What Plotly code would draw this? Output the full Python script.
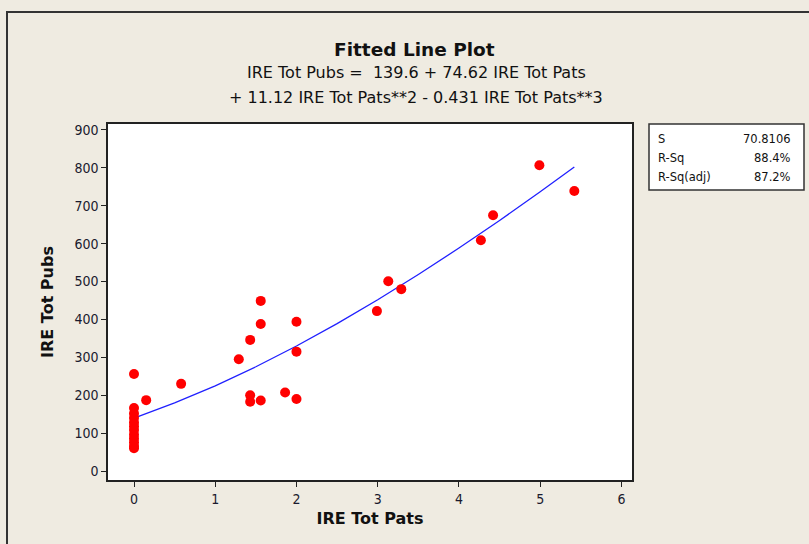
import plotly.graph_objects as go

# Data
pats = [0, 0, 0, 0, 0, 0, 0, 0, 0, 0, 0, 0,
        0.15, 0.58, 1.29, 1.43, 1.43, 1.43, 1.56, 1.56, 1.56, 1.86,
        2.0, 2.0, 2.0, 2.99, 3.13, 3.29, 4.27, 4.42, 4.99, 5.42]
pubs = [256, 166, 152, 140, 128, 118, 108, 96, 86, 76, 66, 60,
        187, 230, 295, 346, 200, 183, 449, 388, 186, 207,
        394, 315, 190, 422, 501, 480, 609, 675, 807, 739]

# Fitted line (IRE Tot Pubs = 139.6 + 74.62x + 11.12x^2 - 0.431x^3)
fit_x = [0, 0.5, 1.0, 1.5, 2.0, 2.5, 3.0, 3.5, 4.0, 4.5, 5.0, 5.42]
fit_y = [139.6, 179.6, 224.9, 275.1, 329.9, 388.9, 451.9, 518.5, 588.4, 661.3, 736.8, 802.1]

x_ticks = [0, 1, 2, 3, 4, 5, 6]
y_ticks = [0, 100, 200, 300, 400, 500, 600, 700, 800, 900]

stat_names = ["S", "R-Sq", "R-Sq(adj)"]
stat_values = ["70.8106", "88.4%", "87.2%"]

W, H = 809, 544
L, R, T, B = 108, 632, 124, 480
pw, ph = R - L, B - T

def px(x):
    return (x - L) / pw

def py(y):
    return (B - y) / ph

FONT = "DejaVu Sans, sans-serif"
TFONT = "DejaVu Sans Condensed, DejaVu Sans, sans-serif"
TXT = "#1a1a2e"

fig = go.Figure()
fig.add_trace(go.Scatter(x=fit_x, y=fit_y, mode="lines",
                         line=dict(color="#2020ff", width=1.3), showlegend=False,
                         hoverinfo="skip"))
fig.add_trace(go.Scatter(x=pats, y=pubs, mode="markers",
                         marker=dict(color="#ff0000", size=10, line=dict(width=0)),
                         showlegend=False))

fig.update_layout(
    width=W, height=H,
    margin=dict(l=L, r=W - R, t=T, b=H - B),
    paper_bgcolor="#efebe1", plot_bgcolor="white",
    font=dict(family=FONT, color=TXT, size=13),
    xaxis=dict(range=[-0.32, 6.13], tickvals=x_ticks, ticks="outside", ticklen=5,
               tickcolor="#222", showgrid=False, zeroline=False, showline=True,
               linecolor="#222", linewidth=1.5, mirror=True,
               tickfont=dict(size=14, family=TFONT, color=TXT),
               title=dict(text="<b>IRE Tot Pats</b>", font=dict(size=16, family=FONT, color="#111"),
                          standoff=7)),
    yaxis=dict(range=[-23.7, 915.8], tickvals=y_ticks, ticks="outside", ticklen=5,
               tickcolor="#222", showgrid=False, zeroline=False, showline=True,
               linecolor="#222", linewidth=1.5, mirror=True,
               tickfont=dict(size=14, family=TFONT, color=TXT),
               title=dict(text="<b>IRE Tot Pubs</b>", font=dict(size=16, family=FONT, color="#111"),
                          standoff=17)),
)

# outer frame
fig.add_shape(type="rect", xref="paper", yref="paper",
              x0=px(7), x1=px(W + 10), y0=py(H + 10), y1=py(12),
              line=dict(color="#333", width=2), fillcolor="rgba(0,0,0,0)", layer="below")

# stats box
fig.add_shape(type="rect", xref="paper", yref="paper",
              x0=px(649), x1=px(804), y0=py(190), y1=py(124),
              line=dict(color="#333", width=1.5), fillcolor="white")
for i, (n, v) in enumerate(zip(stat_names, stat_values)):
    yy = 139 + i * 19
    fig.add_annotation(text=n, xref="paper", yref="paper", x=px(656), y=py(yy),
                       xanchor="left", yanchor="middle", showarrow=False,
                       font=dict(size=11.5, family=FONT, color="#111"))
    fig.add_annotation(text=v, xref="paper", yref="paper", x=px(793), y=py(yy),
                       xanchor="right", yanchor="middle", showarrow=False,
                       font=dict(size=11.5, family=FONT, color="#111"))

# titles
fig.add_annotation(text="<b>Fitted Line Plot</b>", xref="paper", yref="paper",
                   x=px(414), y=py(49), xanchor="center", yanchor="middle", showarrow=False,
                   font=dict(size=18.5, family=FONT, color="#111"))
fig.add_annotation(text="IRE Tot Pubs =  139.6 + 74.62 IRE Tot Pats", xref="paper", yref="paper",
                   x=px(416), y=py(73), xanchor="center", yanchor="middle", showarrow=False,
                   font=dict(size=16, family=FONT, color="#111"))
fig.add_annotation(text="+ 11.12 IRE Tot Pats**2 - 0.431 IRE Tot Pats**3", xref="paper", yref="paper",
                   x=px(416), y=py(97), xanchor="center", yanchor="middle", showarrow=False,
                   font=dict(size=16, family=FONT, color="#111"))

fig.write_html("out.html", config={"displayModeBar": False},
               post_script="document.body.style.margin='0';")
